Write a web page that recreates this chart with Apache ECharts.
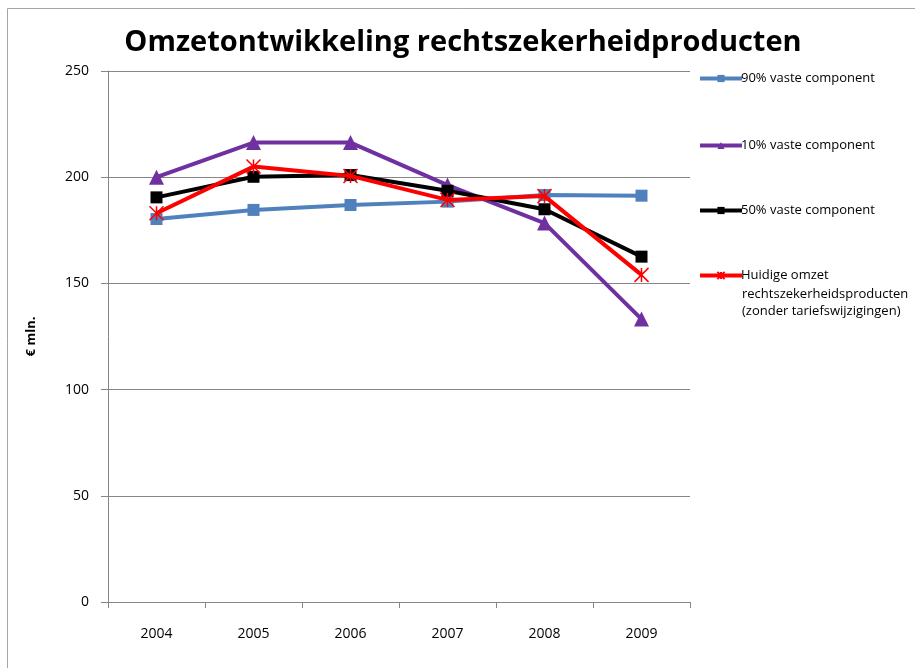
<!DOCTYPE html>
<html><head><meta charset="utf-8">
<script src="https://cdn.jsdelivr.net/npm/echarts@6/dist/echarts.min.js"></script>
<style>html,body{margin:0;padding:0;background:#fff}#c{width:915px;height:668px}</style>
</head><body><div id="c"></div>
<script>
const categories = ['2004','2005','2006','2007','2008','2009'];
const s90 = [180.3, 184.6, 186.9, 188.5, 191.6, 191.3];
const s10 = [200.0, 216.3, 216.3, 196.3, 178.4, 133.2];
const s50 = [190.5, 200.2, 201.0, 193.6, 184.9, 162.6];
const sHuidig = [183.0, 205.0, 200.6, 189.3, 191.1, 154.0];
const names = ['90% vaste component','10% vaste component','50% vaste component','Huidige omzet'];
const huidigExtra = 'rechtszekerheidsproducten\n(zonder tariefswijzigingen)';
const yTicks = [0,50,100,150,200,250];

const chart = echarts.init(document.getElementById('c'));
const font = '"Open Sans", "Liberation Sans", sans-serif';
const legendTops = [72, 139, 204, 269];
const legendText = {fontFamily:font, fontSize:13, color:'#000', letterSpacing:0.8};
const mkLegend = (i) => ({
  data:[names[i]], left: 698, top: legendTops[i], orient:'vertical',
  itemWidth: 42, itemHeight: 9, itemGap: 0, padding:0,
  lineStyle:{width:4},
  textStyle:Object.assign({padding:[0,0,0,-6]}, legendText),
  selectedMode:false
});
chart.setOption({
  animation:false,
  backgroundColor:'#fff',
  title:{text:'Omzetontwikkeling rechtszekerheidproducten', left:458, textAlign:'center', top:23,
    textStyle:{fontFamily:font, fontWeight:'bold', fontSize:29, color:'#000', letterSpacing:-1.2}},
  graphic:[
    {type:'rect', shape:{x:7.5,y:8.5,width:1000,height:1000}, style:{fill:'none', stroke:'#a6a6a6', lineWidth:1}, silent:true},
    {type:'text', left:742, top:286, style:Object.assign({text:huidigExtra, lineHeight:17}, legendText), silent:true}
  ],
  legend:[mkLegend(0), mkLegend(1), mkLegend(2), mkLegend(3)],
  grid:{left:108, right:225, top:71, bottom:66},
  xAxis:{type:'category', data:categories, boundaryGap:true,
    axisLine:{lineStyle:{color:'#868686', width:1}},
    axisTick:{show:true, length:6, lineStyle:{color:'#868686'}},
    axisLabel:{fontFamily:font, fontSize:14, color:'#000', margin:25}},
  yAxis:{type:'value', min:0, max:250, interval:50,
    name:'€ mln.', nameLocation:'middle', nameGap:70, nameRotate:90,
    nameTextStyle:{fontFamily:font, fontWeight:'bold', fontSize:13, color:'#000'},
    axisLine:{show:true, lineStyle:{color:'#868686'}},
    axisTick:{show:true, length:7, lineStyle:{color:'#868686'}},
    axisLabel:{fontFamily:font, fontSize:14, color:'#000', margin:19},
    splitLine:{lineStyle:{color:'#868686', width:1}}},
  series:[
    {name:names[0], type:'line', data:s90, symbol:'rect', symbolSize:12,
      lineStyle:{color:'#4f81bd', width:4}, itemStyle:{color:'#4f81bd'}, z:2},
    {name:names[1], type:'line', data:s10, symbol:'triangle', symbolSize:15,
      lineStyle:{color:'#7030a0', width:4}, itemStyle:{color:'#7030a0'}, z:3},
    {name:names[2], type:'line', data:s50, symbol:'rect', symbolSize:12,
      lineStyle:{color:'#000', width:4}, itemStyle:{color:'#000'}, z:4},
    {name:names[3], type:'line', data:sHuidig,
      symbol:'path://M0,0L10,10M10,0L0,10M5,0L5,10', symbolSize:14,
      lineStyle:{color:'#ff0000', width:4}, itemStyle:{color:'none', borderColor:'#ff0000', borderWidth:1.5}, z:5}
  ]
});
</script></body></html>
